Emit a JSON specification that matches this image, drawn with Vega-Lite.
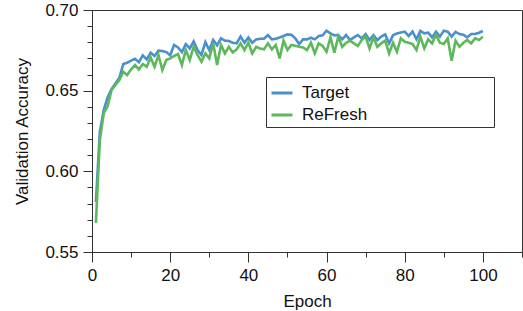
{
  "$schema": "https://vega.github.io/schema/vega-lite/v6.json",
  "width": 430,
  "height": 242,
  "autosize": {"type": "none"},
  "padding": {"left": 92, "top": 10, "right": 1, "bottom": 59},
  "background": "white",
  "config": {
    "view": {"stroke": "#333333", "strokeWidth": 1},
    "font": "Liberation Sans",
    "axis": {
      "labelFont": "Liberation Sans",
      "titleFont": "Liberation Sans",
      "labelFontSize": 17,
      "titleFontSize": 17,
      "titleFontWeight": "normal",
      "labelColor": "#111111",
      "titleColor": "#111111",
      "domainColor": "#333333",
      "tickColor": "#333333",
      "grid": false,
      "labelOverlap": false,
      "labelBound": false,
      "labelFlush": false
    },
    "legend": {"labelFont": "Liberation Sans"}
  },
  "data": {
    "values": [
      {"epoch":1,"Target":0.581,"ReFresh":0.568},
      {"epoch":2,"Target":0.6245,"ReFresh":0.6193},
      {"epoch":3,"Target":0.638,"ReFresh":0.6359},
      {"epoch":4,"Target":0.646,"ReFresh":0.6404},
      {"epoch":5,"Target":0.651,"ReFresh":0.6504},
      {"epoch":6,"Target":0.6545,"ReFresh":0.6535},
      {"epoch":7,"Target":0.658,"ReFresh":0.6566},
      {"epoch":8,"Target":0.6665,"ReFresh":0.6617},
      {"epoch":9,"Target":0.6673,"ReFresh":0.6597},
      {"epoch":10,"Target":0.6686,"ReFresh":0.6632},
      {"epoch":11,"Target":0.6698,"ReFresh":0.6659},
      {"epoch":12,"Target":0.6677,"ReFresh":0.6632},
      {"epoch":13,"Target":0.6719,"ReFresh":0.6665},
      {"epoch":14,"Target":0.6694,"ReFresh":0.6648},
      {"epoch":15,"Target":0.6735,"ReFresh":0.6706},
      {"epoch":16,"Target":0.6715,"ReFresh":0.6648},
      {"epoch":17,"Target":0.6748,"ReFresh":0.6721},
      {"epoch":18,"Target":0.6746,"ReFresh":0.6628},
      {"epoch":19,"Target":0.6739,"ReFresh":0.669},
      {"epoch":20,"Target":0.6719,"ReFresh":0.67},
      {"epoch":21,"Target":0.6783,"ReFresh":0.6715},
      {"epoch":22,"Target":0.6768,"ReFresh":0.6727},
      {"epoch":23,"Target":0.6739,"ReFresh":0.6659},
      {"epoch":24,"Target":0.6789,"ReFresh":0.6752},
      {"epoch":25,"Target":0.6762,"ReFresh":0.669},
      {"epoch":26,"Target":0.6806,"ReFresh":0.6772},
      {"epoch":27,"Target":0.6752,"ReFresh":0.6721},
      {"epoch":28,"Target":0.6721,"ReFresh":0.6679},
      {"epoch":29,"Target":0.6801,"ReFresh":0.6731},
      {"epoch":30,"Target":0.6752,"ReFresh":0.67},
      {"epoch":31,"Target":0.6814,"ReFresh":0.6793},
      {"epoch":32,"Target":0.6781,"ReFresh":0.6659},
      {"epoch":33,"Target":0.6824,"ReFresh":0.6783},
      {"epoch":34,"Target":0.681,"ReFresh":0.6731},
      {"epoch":35,"Target":0.6808,"ReFresh":0.6772},
      {"epoch":36,"Target":0.6797,"ReFresh":0.6737},
      {"epoch":37,"Target":0.6793,"ReFresh":0.6756},
      {"epoch":38,"Target":0.6835,"ReFresh":0.6793},
      {"epoch":39,"Target":0.6797,"ReFresh":0.6752},
      {"epoch":40,"Target":0.683,"ReFresh":0.6797},
      {"epoch":41,"Target":0.6797,"ReFresh":0.6731},
      {"epoch":42,"Target":0.6818,"ReFresh":0.6772},
      {"epoch":43,"Target":0.6822,"ReFresh":0.6762},
      {"epoch":44,"Target":0.6822,"ReFresh":0.6756},
      {"epoch":45,"Target":0.6845,"ReFresh":0.6793},
      {"epoch":46,"Target":0.6818,"ReFresh":0.6756},
      {"epoch":47,"Target":0.6822,"ReFresh":0.6783},
      {"epoch":48,"Target":0.683,"ReFresh":0.67},
      {"epoch":49,"Target":0.6839,"ReFresh":0.681},
      {"epoch":50,"Target":0.6849,"ReFresh":0.6752},
      {"epoch":51,"Target":0.6847,"ReFresh":0.6783},
      {"epoch":52,"Target":0.6824,"ReFresh":0.6779},
      {"epoch":53,"Target":0.6789,"ReFresh":0.6772},
      {"epoch":54,"Target":0.6818,"ReFresh":0.6768},
      {"epoch":55,"Target":0.6818,"ReFresh":0.6752},
      {"epoch":56,"Target":0.6828,"ReFresh":0.6797},
      {"epoch":57,"Target":0.6818,"ReFresh":0.6731},
      {"epoch":58,"Target":0.6839,"ReFresh":0.6793},
      {"epoch":59,"Target":0.6843,"ReFresh":0.6777},
      {"epoch":60,"Target":0.6872,"ReFresh":0.6741},
      {"epoch":61,"Target":0.6855,"ReFresh":0.683},
      {"epoch":62,"Target":0.6843,"ReFresh":0.6735},
      {"epoch":63,"Target":0.6845,"ReFresh":0.6835},
      {"epoch":64,"Target":0.6818,"ReFresh":0.6772},
      {"epoch":65,"Target":0.6845,"ReFresh":0.6797},
      {"epoch":66,"Target":0.6814,"ReFresh":0.681},
      {"epoch":67,"Target":0.683,"ReFresh":0.6793},
      {"epoch":68,"Target":0.6845,"ReFresh":0.6777},
      {"epoch":69,"Target":0.6824,"ReFresh":0.6814},
      {"epoch":70,"Target":0.6851,"ReFresh":0.6835},
      {"epoch":71,"Target":0.6814,"ReFresh":0.6762},
      {"epoch":72,"Target":0.6845,"ReFresh":0.683},
      {"epoch":73,"Target":0.6814,"ReFresh":0.6772},
      {"epoch":74,"Target":0.6835,"ReFresh":0.6793},
      {"epoch":75,"Target":0.6849,"ReFresh":0.681},
      {"epoch":76,"Target":0.6793,"ReFresh":0.6731},
      {"epoch":77,"Target":0.6843,"ReFresh":0.6797},
      {"epoch":78,"Target":0.6855,"ReFresh":0.6741},
      {"epoch":79,"Target":0.6861,"ReFresh":0.6824},
      {"epoch":80,"Target":0.6866,"ReFresh":0.6803},
      {"epoch":81,"Target":0.6839,"ReFresh":0.6797},
      {"epoch":82,"Target":0.6866,"ReFresh":0.6789},
      {"epoch":83,"Target":0.6818,"ReFresh":0.6752},
      {"epoch":84,"Target":0.687,"ReFresh":0.6835},
      {"epoch":85,"Target":0.6855,"ReFresh":0.6762},
      {"epoch":86,"Target":0.6859,"ReFresh":0.6818},
      {"epoch":87,"Target":0.683,"ReFresh":0.6793},
      {"epoch":88,"Target":0.6866,"ReFresh":0.6845},
      {"epoch":89,"Target":0.6835,"ReFresh":0.6797},
      {"epoch":90,"Target":0.6872,"ReFresh":0.6789},
      {"epoch":91,"Target":0.6866,"ReFresh":0.6824},
      {"epoch":92,"Target":0.6835,"ReFresh":0.6686},
      {"epoch":93,"Target":0.6864,"ReFresh":0.681},
      {"epoch":94,"Target":0.6851,"ReFresh":0.6772},
      {"epoch":95,"Target":0.6847,"ReFresh":0.6797},
      {"epoch":96,"Target":0.683,"ReFresh":0.6814},
      {"epoch":97,"Target":0.6851,"ReFresh":0.6793},
      {"epoch":98,"Target":0.6851,"ReFresh":0.6824},
      {"epoch":99,"Target":0.6859,"ReFresh":0.6814},
      {"epoch":100,"Target":0.687,"ReFresh":0.6835}
    ]
  },
  "transform": [
    {"fold": ["Target", "ReFresh"], "as": ["model", "acc"]}
  ],
  "mark": {"type": "line", "strokeWidth": 2.6, "clip": true},
  "encoding": {
    "x": {
      "field": "epoch",
      "type": "quantitative",
      "scale": {"domain": [0, 110], "nice": false, "zero": false},
      "axis": {
        "title": "Epoch",
        "values": [0, 10, 20, 30, 40, 50, 60, 70, 80, 90, 100, 110],
        "labelExpr": "datum.value % 20 === 0 && datum.value <= 100 ? datum.label : ''",
        "tickSize": {"condition": {"test": "datum.value % 20 === 0", "value": 10}, "value": 5},
        "labelPadding": 5,
        "titlePadding": 10
      }
    },
    "y": {
      "field": "acc",
      "type": "quantitative",
      "scale": {"domain": [0.55, 0.70], "nice": false, "zero": false},
      "axis": {
        "title": "Validation Accuracy",
        "values": [0.55, 0.56, 0.57, 0.58, 0.59, 0.6, 0.61, 0.62, 0.63, 0.64, 0.65, 0.66, 0.67, 0.68, 0.69, 0.7],
        "labelExpr": "abs(datum.value*20 - round(datum.value*20)) < 0.001 ? format(datum.value, '.2f') : ''",
        "tickSize": {"condition": {"test": "abs(datum.value*20 - round(datum.value*20)) < 0.001", "value": 9}, "value": 5},
        "labelPadding": 5,
        "titlePadding": 13
      }
    },
    "color": {
      "field": "model",
      "type": "nominal",
      "sort": ["Target", "ReFresh"],
      "scale": {"domain": ["Target", "ReFresh"], "range": ["#4a90cc", "#5cb85a"]},
      "legend": {
        "title": null,
        "orient": "none",
        "legendX": 174,
        "legendY": 67,
        "strokeColor": "#333333",
        "fillColor": "white",
        "padding": 4,
        "symbolType": "stroke",
        "symbolStrokeWidth": 3,
        "symbolSize": 441,
        "labelFontSize": 17,
        "labelColor": "#111111",
        "labelOffset": 8,
        "rowPadding": 2,
        "labelLimit": 0,
        "labelExpr": "datum.label + '\u00a0\u00a0\u00a0\u00a0\u00a0\u00a0\u00a0\u00a0\u00a0\u00a0\u00a0\u00a0\u00a0\u00a0\u00a0\u00a0\u00a0\u00a0\u00a0\u00a0\u00a0\u00a0\u00a0\u00a0\u00a0\u00a0\u200b'"
      }
    }
  }
}
